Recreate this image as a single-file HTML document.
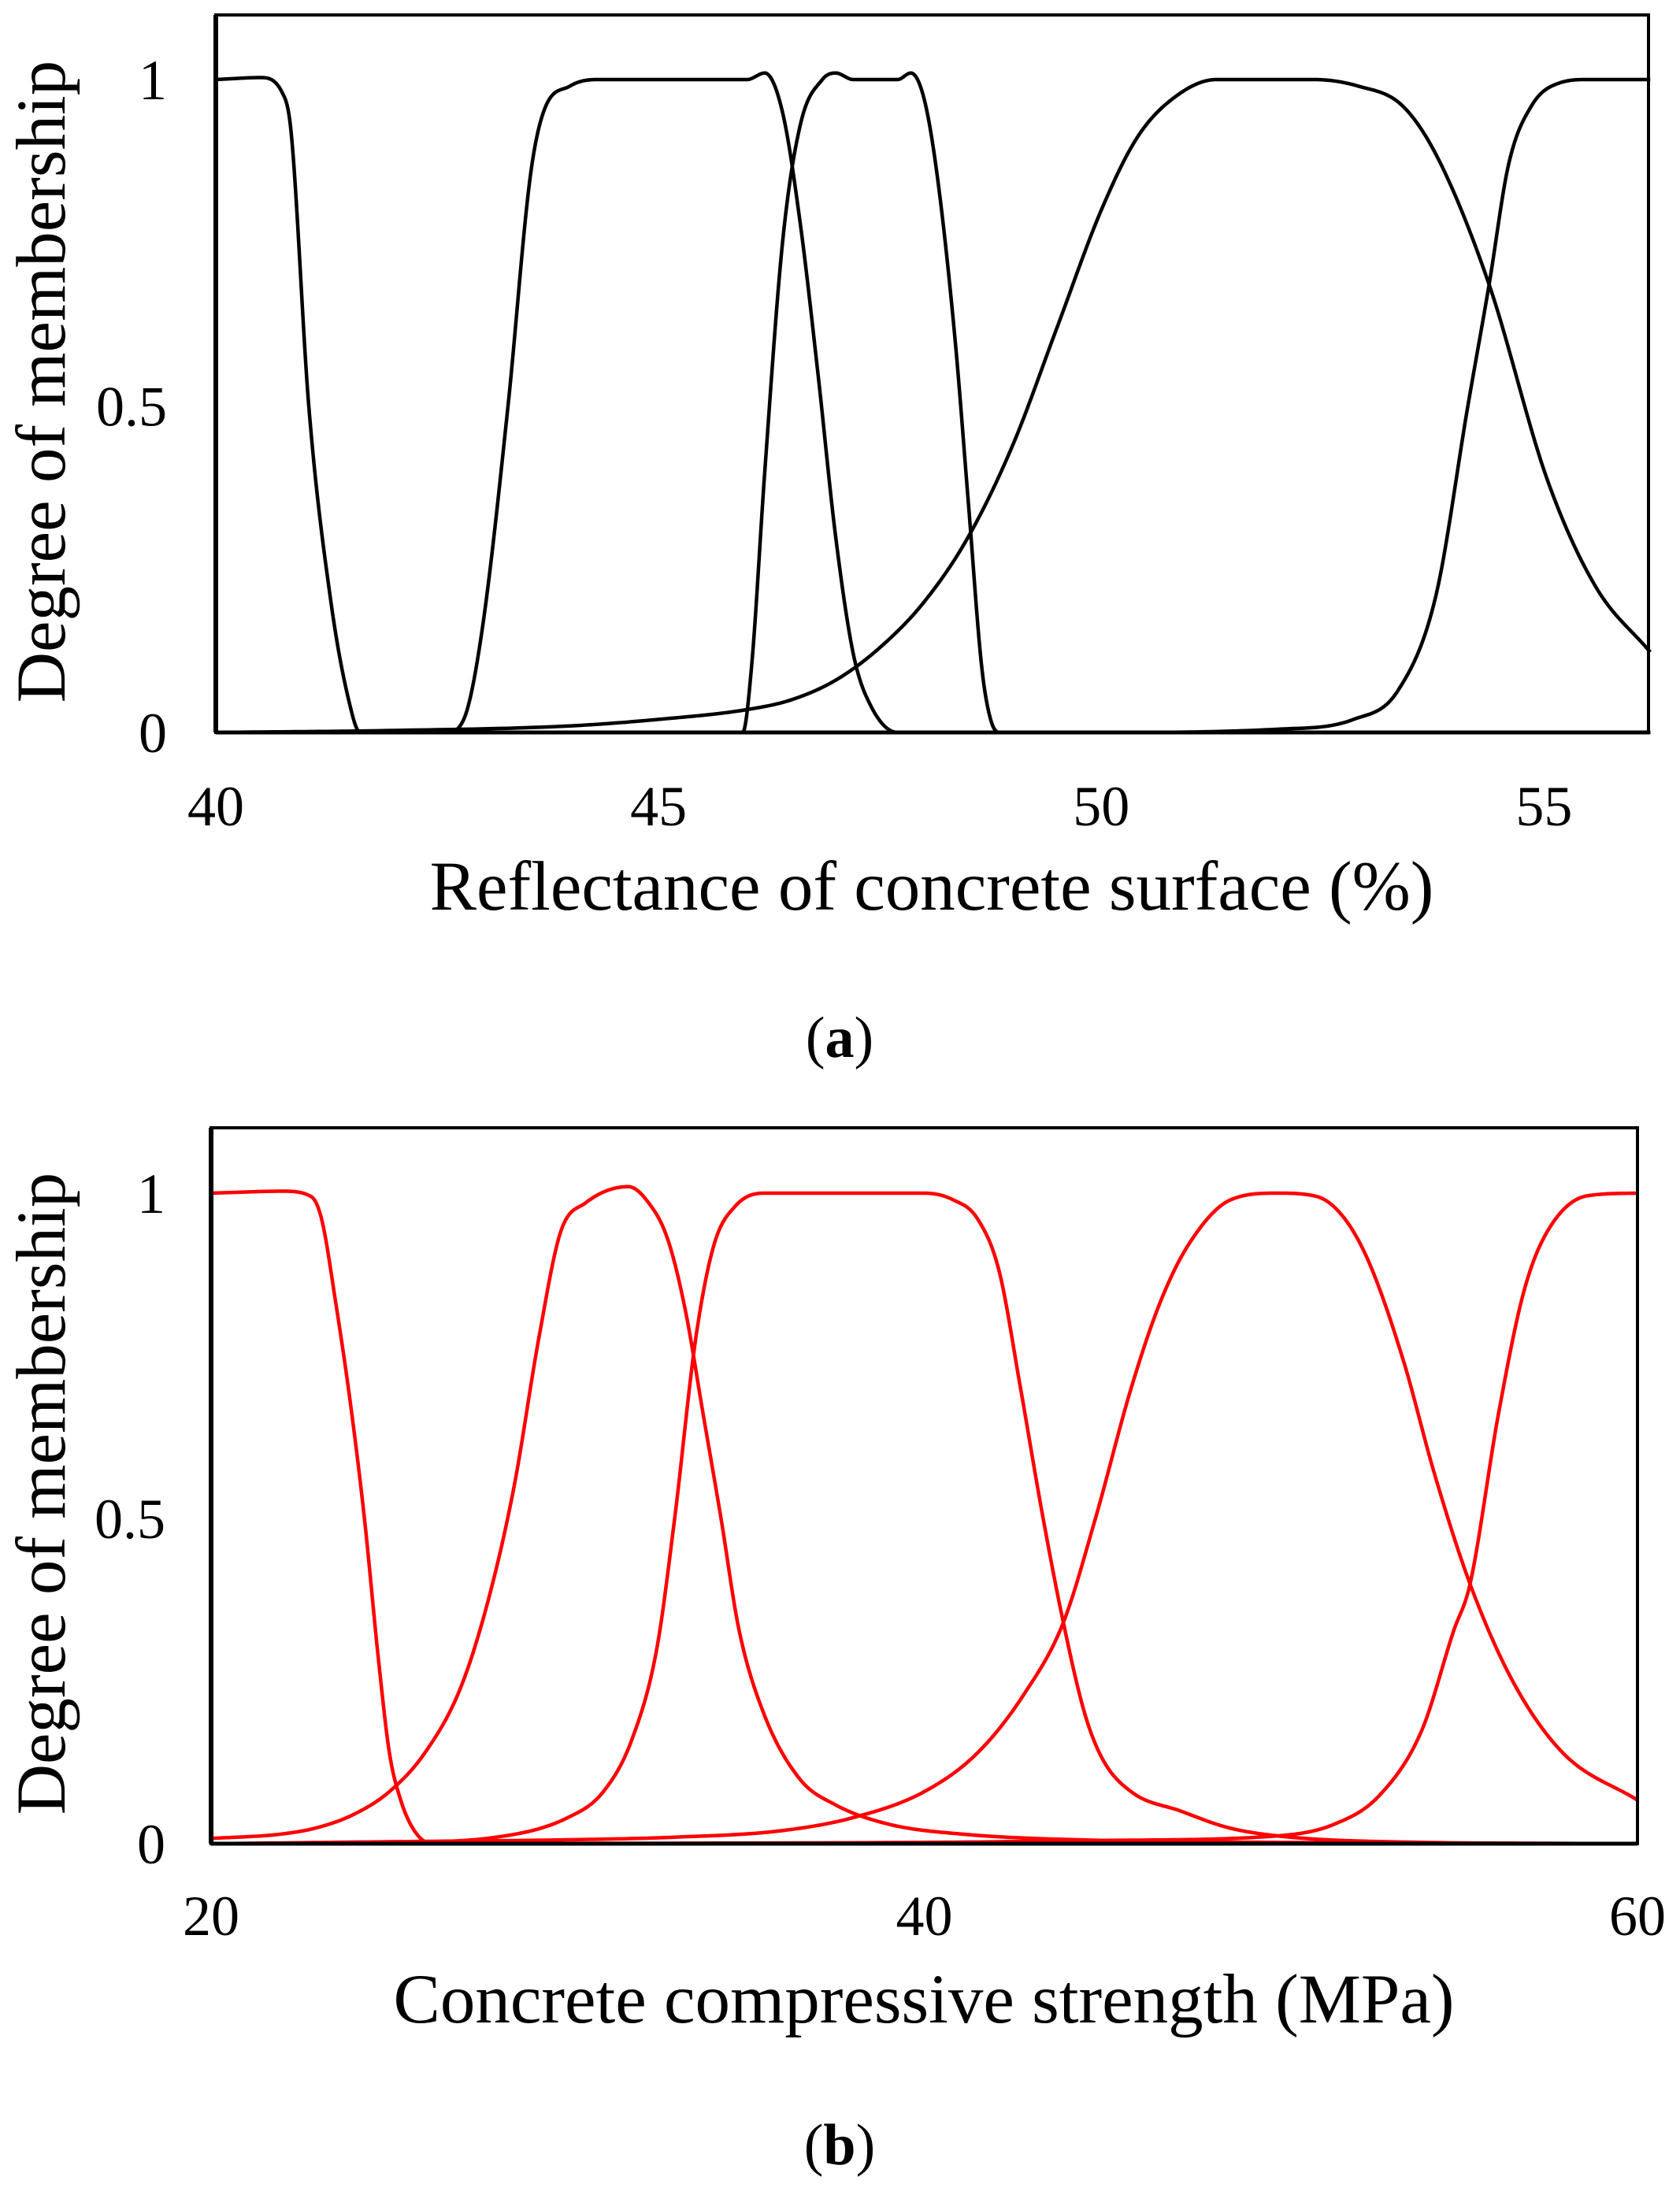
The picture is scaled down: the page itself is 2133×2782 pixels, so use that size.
<!DOCTYPE html>
<html>
<head>
<meta charset="utf-8">
<style>
  html,body{margin:0;padding:0;background:#fff;}
  svg{display:block;}
  text{font-family:"Liberation Serif",serif;fill:#000;}
</style>
</head>
<body>
<svg id="fig" width="2133" height="2782" viewBox="0 0 2133 2782">
  <g id="chartA"></g>
  <g id="chartB"></g>
  <text x="1066" y="1342" font-size="74" text-anchor="middle">(<tspan font-weight="bold">a</tspan>)</text>
  <text x="1066" y="2748" font-size="74" text-anchor="middle">(<tspan font-weight="bold">b</tspan>)</text>
</svg>
<script>
// ---- Chart A data (reflectance %, degree of membership) ----
const aTicksX = [40, 45, 50, 55];
const aTicksY = [0, 0.5, 1];
const aCurve1X = [40, 40.5, 40.75, 40.85, 41.05, 41.3, 41.5, 41.63, 56.2];
const aCurve1Y = [1, 1.003, 0.98, 0.92, 0.5, 0.2, 0.05, 0, 0];
const aCurve2X = [40, 42.6, 42.8, 43.0, 43.3, 43.55, 43.7, 44.0, 44.3, 46.0, 46.2, 46.4, 46.6, 46.8, 47.0, 47.2, 47.4, 47.7, 56.2];
const aCurve2Y = [0, 0, 0.02, 0.15, 0.5, 0.85, 0.95, 0.99, 1, 1, 1.01, 0.95, 0.78, 0.55, 0.3, 0.12, 0.04, 0, 0];
const aCurve3X = [40, 45.95, 46.05, 46.2, 46.4, 46.6, 46.85, 47.0, 47.2, 47.7, 47.85, 48.0, 48.15, 48.35, 48.5, 48.65, 48.75, 48.85, 56.2];
const aCurve3Y = [0, 0, 0.1, 0.4, 0.75, 0.93, 1.0, 1.01, 1, 1, 1.01, 0.97, 0.85, 0.6, 0.35, 0.1, 0.02, 0, 0];
const aCurve4X = [40, 42, 44, 45, 46, 46.5, 47, 47.5, 48, 48.5, 49, 49.5, 50, 50.4, 50.8, 51.3, 52.4, 52.9, 53.4, 53.8, 54.38, 55.04, 55.58, 56.2];
const aCurve4Y = [0, 0.003, 0.01, 0.02, 0.035, 0.05, 0.08, 0.13, 0.2, 0.3, 0.44, 0.62, 0.8, 0.91, 0.97, 1, 1, 0.99, 0.96, 0.88, 0.686, 0.386, 0.224, 0.123];
const aCurve5X = [40, 50, 52, 52.85, 53.35, 53.78, 54.14, 54.38, 54.6, 54.86, 55.18, 55.5, 56.2];
const aCurve5Y = [0, 0, 0.005, 0.02, 0.064, 0.21, 0.5, 0.686, 0.87, 0.96, 0.995, 1, 1];

// ---- Chart B data (compressive strength MPa, degree of membership) ----
const bTicksX = [20, 40, 60];
const bTicksY = [0, 0.5, 1];
const bCurve1X = [20, 22, 22.8, 23.1, 23.5, 23.9, 24.3, 24.7, 25.0, 25.3, 25.7, 26.2, 60];
const bCurve1Y = [1, 1.003, 0.995, 0.96, 0.83, 0.68, 0.5, 0.28, 0.14, 0.07, 0.02, 0, 0];
const bCurve2X = [20, 22, 23, 24, 25, 26, 27, 27.8, 28.5, 29.2, 29.8, 30.5, 31.7, 32.2, 32.8, 33.3, 33.8, 34.3, 34.8, 35.5, 36.5, 37.5, 39, 41, 45, 50, 60];
const bCurve2Y = [0.008, 0.015, 0.025, 0.045, 0.08, 0.14, 0.24, 0.38, 0.55, 0.78, 0.94, 0.985, 1.01, 0.99, 0.93, 0.82, 0.66, 0.5, 0.33, 0.2, 0.1, 0.06, 0.03, 0.015, 0.005, 0.002, 0];
const bCurve3X = [20, 25, 28, 30, 31, 31.8, 32.5, 33, 33.6, 34.1, 34.7, 35.5, 40, 40.8, 41.5, 42.1, 42.7, 43.3, 43.9, 44.5, 45, 45.8, 47.2, 48.5, 49.9, 53, 60];
const bCurve3Y = [0, 0.002, 0.01, 0.04, 0.08, 0.16, 0.3, 0.5, 0.78, 0.92, 0.98, 1, 1, 0.99, 0.96, 0.88, 0.7, 0.51, 0.34, 0.2, 0.13, 0.08, 0.05, 0.025, 0.012, 0.003, 0];
const bCurve4X = [20, 25, 30, 33, 36, 38, 40, 41.5, 42.8, 43.9, 44.8, 45.8, 46.6, 47.4, 48.6, 49.9, 51, 51.8, 52.5, 53.45, 54.3, 55.3, 56.5, 57.9, 60];
const bCurve4Y = [0, 0.003, 0.006, 0.01, 0.02, 0.04, 0.08, 0.14, 0.23, 0.34, 0.5, 0.7, 0.83, 0.92, 0.99, 1.0, 0.995, 0.96, 0.89, 0.74, 0.57, 0.4, 0.25, 0.14, 0.067];
const bCurve5X = [20, 40, 45, 49.9, 51.5, 52.76, 53.95, 54.85, 55.3, 56.1, 56.8, 57.44, 58.6, 60];
const bCurve5Y = [0, 0.002, 0.005, 0.012, 0.03, 0.074, 0.174, 0.328, 0.398, 0.66, 0.846, 0.938, 0.996, 1];

const NS = "http://www.w3.org/2000/svg";

function mk(tag, attrs, parent) {
  const e = document.createElementNS(NS, tag);
  for (const k in attrs) e.setAttribute(k, attrs[k]);
  parent.appendChild(e);
  return e;
}

function smoothPath(xs, ys, sx, sy) {
  const n = xs.length;
  const d = [], m = new Array(n);
  for (let i = 0; i < n - 1; i++) d.push((ys[i + 1] - ys[i]) / (xs[i + 1] - xs[i]));
  m[0] = d[0]; m[n - 1] = d[n - 2];
  for (let i = 1; i < n - 1; i++) {
    if (d[i - 1] * d[i] <= 0) m[i] = 0;
    else m[i] = (d[i - 1] + d[i]) / 2;
  }
  for (let i = 0; i < n - 1; i++) {
    if (d[i] === 0) { m[i] = 0; m[i + 1] = 0; continue; }
    const a = m[i] / d[i], b = m[i + 1] / d[i];
    const s = a * a + b * b;
    if (s > 9) { const t = 3 / Math.sqrt(s); m[i] = t * a * d[i]; m[i + 1] = t * b * d[i]; }
  }
  let p = "M" + sx(xs[0]).toFixed(2) + "," + sy(ys[0]).toFixed(2);
  for (let i = 0; i < n - 1; i++) {
    const h = xs[i + 1] - xs[i];
    const steps = 24;
    for (let k = 1; k <= steps; k++) {
      const t = k / steps, t2 = t * t, t3 = t2 * t;
      const y = (2 * t3 - 3 * t2 + 1) * ys[i] + (t3 - 2 * t2 + t) * h * m[i] + (-2 * t3 + 3 * t2) * ys[i + 1] + (t3 - t2) * h * m[i + 1];
      const x = xs[i] + t * h;
      p += "L" + sx(x).toFixed(2) + "," + sy(y).toFixed(2);
    }
  }
  return p;
}

function drawChart(g, cfg) {
  const sx = v => cfg.left + (v - cfg.xmin) / (cfg.xmax - cfg.xmin) * (cfg.right - cfg.left);
  const sy = v => cfg.y0 - v * (cfg.y0 - cfg.y1);
  cfg.curves.forEach((c, i) => {
    const p = mk("path", { d: smoothPath(c[0], c[1], sx, sy), fill: "none", stroke: cfg.color, "stroke-width": 4.5, "stroke-linejoin": "round" }, g);
    
    
  });
  const fr = mk("rect", { x: cfg.left, y: cfg.top, width: cfg.right - cfg.left, height: cfg.y0 - cfg.top, fill: "none", stroke: "#000", "stroke-width": 4 }, g);
  
  
  const la = mk("line", { x1: cfg.left, y1: cfg.top, x2: cfg.left, y2: cfg.y0, stroke: "#000", "stroke-width": 6 }, g);
  
  
  const ba = mk("line", { x1: cfg.left, y1: cfg.y0, x2: cfg.right, y2: cfg.y0, stroke: "#000", "stroke-width": 5 }, g);
  
  
  cfg.ticksX.forEach(v => {
    const t = mk("text", { x: sx(v), y: cfg.xTickY, "font-size": 72, "text-anchor": "middle" }, g);
    t.textContent = String(v);
    
    
  });
  cfg.ticksY.forEach(v => {
    const t = mk("text", { x: cfg.yTickX, y: sy(v) + 25, "font-size": 72, "text-anchor": "end" }, g);
    t.textContent = String(v);
    
    
  });
  const xt = mk("text", { x: cfg.xTitleX, y: cfg.xTitleY, "font-size": 89, "text-anchor": "middle" }, g);
  xt.textContent = cfg.xTitle;
  
  
  const yc = (cfg.top + cfg.y0) / 2 + 10;
  const yt = mk("text", { x: 0, y: 0, "font-size": 89, "text-anchor": "middle", transform: "translate(82," + yc + ") rotate(-90)" }, g);
  yt.textContent = "Degree of membership";
  
  
}

drawChart(document.getElementById("chartA"), {
  prefix: "a", color: "#000",
  left: 274, right: 2093, top: 19, y0: 930, y1: 101,
  xmin: 40, xmax: 56.18,
  ticksX: aTicksX, ticksY: aTicksY,
  xTickY: 1048, yTickX: 212,
  xTitle: "Reflectance of concrete surface (%)", xTitleX: 1183, xTitleY: 1155,
  curves: [[aCurve1X, aCurve1Y], [aCurve2X, aCurve2Y], [aCurve3X, aCurve3Y], [aCurve4X, aCurve4Y], [aCurve5X, aCurve5Y]]
});

drawChart(document.getElementById("chartB"), {
  prefix: "b", color: "#ff0000",
  left: 268, right: 2079, top: 1432, y0: 2341, y1: 1515,
  xmin: 20, xmax: 60,
  ticksX: bTicksX, ticksY: bTicksY,
  xTickY: 2457, yTickX: 210,
  xTitle: "Concrete compressive strength (MPa)", xTitleX: 1173, xTitleY: 2568,
  curves: [[bCurve1X, bCurve1Y], [bCurve2X, bCurve2Y], [bCurve3X, bCurve3Y], [bCurve4X, bCurve4Y], [bCurve5X, bCurve5Y]]
});
</script>
</body>
</html>
